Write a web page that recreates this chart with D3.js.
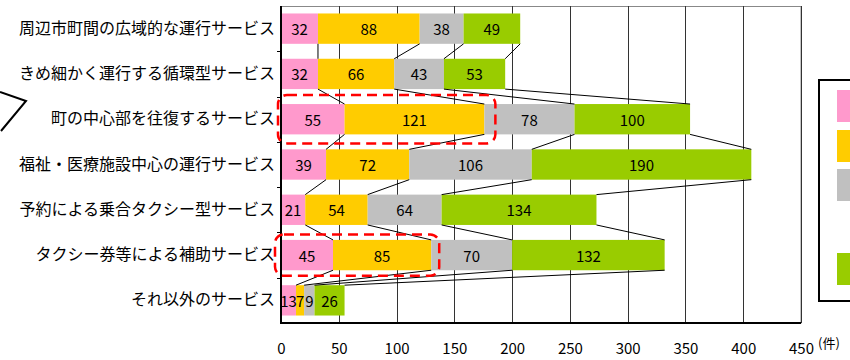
<!DOCTYPE html>
<html>
<head>
<meta charset="utf-8">
<script src="https://cdn.jsdelivr.net/npm/d3@7/dist/d3.min.js"></script>
<style>
  html, body { margin: 0; padding: 0; background: #fff; }
  svg { display: block; }
  text { font-family: "Noto Sans CJK JP", "Noto Sans", sans-serif; fill: #000; }
</style>
</head>
<body>
<svg id="chart" width="850" height="360"></svg>
<script>
// Service types (rows, top to bottom)
const categories = [
  "周辺市町間の広域的な運行サービス",
  "きめ細かく運行する循環型サービス",
  "町の中心部を往復するサービス",
  "福祉・医療施設中心の運行サービス",
  "予約による乗合タクシー型サービス",
  "タクシー券等による補助サービス",
  "それ以外のサービス"
];
// Four stacked series (counts, 件)
const seriesA = [32, 32, 55, 39, 21, 45, 13];
const seriesB = [88, 66, 121, 72, 54, 85, 7];
const seriesC = [38, 43, 78, 106, 64, 70, 9];
const seriesD = [49, 53, 100, 190, 134, 132, 26];
const seriesColors = ["#ff99cc", "#ffcc00", "#c0c0c0", "#99cc00"];
const xTicks = [0, 50, 100, 150, 200, 250, 300, 350, 400, 450];
const unitLabel = "(件)";

const svg = d3.select("#chart");
const x = d3.scaleLinear().domain([0, 450]).range([281, 801]);
const y = d3.scaleBand().domain(categories).range([6, 323])
  .paddingInner(0.33).paddingOuter(0.165);
const bw = y.bandwidth();

const series = [seriesA, seriesB, seriesC, seriesD];
const rows = categories.map((c, i) => {
  const o = { cat: c };
  series.forEach((s, k) => o["s" + k] = s[i]);
  return o;
});
const stack = d3.stack().keys(["s0", "s1", "s2", "s3"])(rows);

// plot frame and vertical grid
svg.append("rect").attr("x", x(0)).attr("y", 6.5)
  .attr("width", x(450) - x(0)).attr("height", 323 - 6.5)
  .attr("fill", "none").attr("stroke", "#888").attr("stroke-width", 1);
svg.append("g").selectAll("line").data(xTicks.slice(1)).join("line")
  .attr("x1", d => Math.round(x(d)) + 0.5).attr("x2", d => Math.round(x(d)) + 0.5)
  .attr("y1", 6).attr("y2", 323)
  .attr("stroke", "#333").attr("stroke-width", 1);

// stacked bars
const layers = svg.append("g").selectAll("g").data(stack).join("g")
  .attr("fill", (d, k) => seriesColors[k]);
layers.selectAll("rect").data(d => d).join("rect")
  .attr("x", d => x(d[0])).attr("width", d => x(d[1]) - x(d[0]))
  .attr("y", d => y(d.data.cat)).attr("height", bw);

// series lines joining segment ends between neighbouring bars
const links = [];
stack.forEach(layer => {
  for (let i = 0; i < layer.length - 1; i++) {
    links.push({
      x1: x(layer[i][1]), y1: y(categories[i]) + bw,
      x2: x(layer[i + 1][1]), y2: y(categories[i + 1])
    });
  }
});
svg.append("g").selectAll("line").data(links).join("line")
  .attr("x1", d => d.x1).attr("y1", d => d.y1)
  .attr("x2", d => d.x2).attr("y2", d => d.y2)
  .attr("stroke", "#000").attr("stroke-width", 1);

// value labels
const labels = [];
stack.forEach(layer => layer.forEach(d => labels.push({
  v: d[1] - d[0], cx: (x(d[0]) + x(d[1])) / 2, cy: y(d.data.cat) + bw / 2
})));
svg.append("g").selectAll("text").data(labels).join("text")
  .attr("x", d => d.cx).attr("y", d => d.cy)
  .attr("text-anchor", "middle").attr("dominant-baseline", "central")
  .attr("font-size", 15).text(d => d.v);

// axes
const yAxis = d3.axisLeft(y).tickSize(0).tickPadding(6);
const yg = svg.append("g").attr("transform", `translate(${x(0)},0)`).call(yAxis);
yg.select(".domain").remove();
yg.selectAll("text").attr("font-size", 16).attr("font-family", "'Noto Sans CJK JP', sans-serif");
// band boundary ticks on the category axis
const bounds = categories.slice(1).map(c => y(c) - y.step() * y.paddingInner() / 2);
svg.append("g").selectAll("line").data(bounds).join("line")
  .attr("x1", x(0) - 4).attr("x2", x(0))
  .attr("y1", d => Math.round(d) + 0.5).attr("y2", d => Math.round(d) + 0.5)
  .attr("stroke", "#000");
svg.append("line").attr("x1", x(0)).attr("x2", x(0)).attr("y1", 6).attr("y2", 324)
  .attr("stroke", "#000").attr("stroke-width", 2);
svg.append("line").attr("x1", x(0) - 1).attr("x2", x(450)).attr("y1", 323).attr("y2", 323)
  .attr("stroke", "#000").attr("stroke-width", 2);

const xAxis = d3.axisBottom(x).tickValues(xTicks).tickSize(0).tickPadding(20);
const xg = svg.append("g").attr("transform", "translate(0,323)").call(xAxis);
xg.select(".domain").remove();
xg.selectAll("text").attr("font-size", 15).attr("font-family", "'Noto Sans CJK JP', sans-serif");
svg.append("text").attr("x", 818).attr("y", 348).attr("font-size", 13).text(unitLabel);

// dashed highlight frames
const highlights = [
  { row: 2, upTo: 1, padL: 3, padR: 11, padY: 9 },
  { row: 5, upTo: 1, padL: 6, padR: 8, padY: 5.5 }
];
svg.append("g").selectAll("rect").data(highlights).join("rect")
  .attr("x", d => x(0) - d.padL)
  .attr("y", d => y(categories[d.row]) - d.padY)
  .attr("width", d => x(stack[d.upTo][d.row][1]) + d.padR - (x(0) - d.padL))
  .attr("height", d => bw + 2 * d.padY)
  .attr("rx", 9).attr("fill", "none")
  .attr("stroke", "#ff0000").attr("stroke-width", 2.5)
  .attr("stroke-dasharray", "10,6");

// callout pointer on the left edge
svg.append("path").attr("d", "M0,92 L26,101 L1,131")
  .attr("fill", "none").attr("stroke", "#000").attr("stroke-width", 2);

// legend frame with swatches
svg.append("rect").attr("x", 819).attr("y", 80).attr("width", 60).attr("height", 221)
  .attr("fill", "#fff").attr("stroke", "#000").attr("stroke-width", 2);
const swatchY = [90, 130, 169, 253];
svg.append("g").selectAll("rect").data(seriesColors).join("rect")
  .attr("x", 837).attr("y", (d, i) => swatchY[i])
  .attr("width", 20).attr("height", 32).attr("fill", d => d);
</script>
</body>
</html>
